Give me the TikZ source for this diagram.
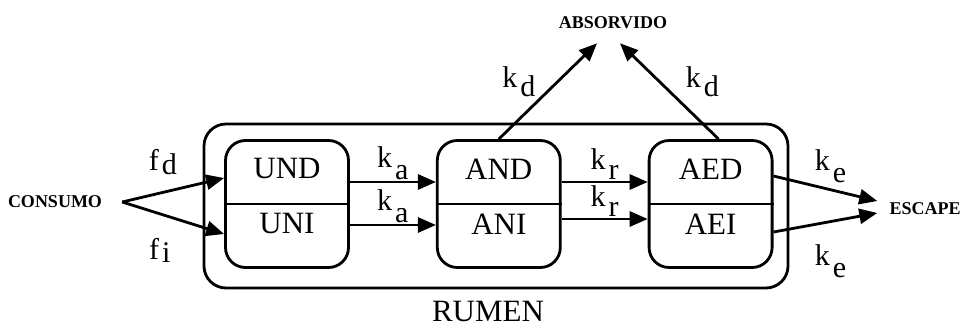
\documentclass[tikz,border=0pt]{standalone}
\usepackage{fontspec}
\setmainfont{Liberation Serif}
\usetikzlibrary{positioning,arrows.meta}
\newcommand\rate[3][12pt]{#2\hspace{3pt}\raisebox{-#1}{#3}}

\begin{document}
\begin{tikzpicture}[
  x=1pt, y=1pt,
  node distance=86pt,
  comp/.style={rectangle, rounded corners=20pt, draw, line width=2.8pt, minimum width=123pt, minimum height=127pt},
  rum/.style={rectangle, rounded corners=22pt, draw, line width=2.8pt, minimum width=584pt, minimum height=164pt},
  nm/.style={font=\fontsize{31}{31}\selectfont, inner sep=0pt},
  lbl/.style={font=\fontsize{30}{30}\selectfont, inner sep=1pt},
  ext/.style={font=\fontsize{18}{18}\selectfont\bfseries, inner sep=3pt},
  fl/.style={-{Triangle[length=18pt,width=15pt]}, line width=2.8pt}
]
\useasboundingbox (0,0) rectangle (967,327);
\node[rum] (rumen) at (496,121) {};
\node[nm, below=12pt of rumen, xshift=-8pt] (rlab) {RUMEN};
\node[comp] (un) at (287,123) {};
\node[comp, right=of un] (an) {};
\node[comp, right=of an] (ae) {};
\draw[line width=2.8pt] (un.west) -- (un.east);
\draw[line width=2.8pt] (an.west) -- (an.east);
\draw[line width=2.8pt] (ae.west) -- (ae.east);
\node[nm] (und) at ([yshift=35pt]un.center) {UND};
\node[nm] (uni) at ([yshift=-20pt]un.center) {UNI};
\node[nm] (and) at ([yshift=35pt]an.center) {AND};
\node[nm] (ani) at ([yshift=-20pt]an.center) {ANI};
\node[nm] (aed) at ([yshift=35pt]ae.center) {AED};
\node[nm] (aei) at ([yshift=-20pt]ae.center) {AEI};
\node[ext] (con) at (55,125) {CONSUMO};
\node[ext] (abs) at (613,304) {ABSORVIDO};
\node[ext] (esc) at (925,118) {ESCAPE};
\draw[fl] ([xshift=17pt]con.east) -- node[lbl, pos=0.4, above=15pt] {\rate[4pt]{f}{d}} ([yshift=26pt]un.west);
\draw[fl] ([xshift=17pt]con.east) -- node[lbl, pos=0.37, below=22pt] {\rate[3pt]{f}{i}} ([yshift=-30pt]un.west);
\draw[fl] ([yshift=22pt]un.east) -- node[lbl, above] {\rate{k}{a}} ([yshift=22pt]an.west);
\draw[fl] ([yshift=-21pt]un.east) -- node[lbl, above] {\rate{k}{a}} ([yshift=-21pt]an.west);
\draw[fl] ([yshift=22pt]an.east) -- node[lbl, above] {\rate[10pt]{k}{r}} ([yshift=22pt]ae.west);
\draw[fl] ([yshift=-15pt]an.east) -- node[lbl, above] {\rate[10pt]{k}{r}} ([yshift=-15pt]ae.west);
\draw[fl] (an.north) -- node[lbl, pos=0.6, left=20pt] {\rate[9pt]{k}{d}} ([xshift=-16pt,yshift=-11pt]abs.south);
\draw[fl] ([xshift=8pt]ae.north) -- node[lbl, pos=0.6, right=24pt] {\rate[9pt]{k}{d}} ([xshift=7pt,yshift=-11pt]abs.south);
\draw[fl] ([yshift=28pt]ae.east) -- node[lbl, pos=0.55, above=5pt] {\rate{k}{e}} ([xshift=-9pt,yshift=8pt]esc.west);
\draw[fl] ([yshift=-28pt]ae.east) -- node[lbl, pos=0.55, below=21pt] {\rate{k}{e}} ([xshift=-9pt,yshift=-4pt]esc.west);
\end{tikzpicture}
\end{document}
